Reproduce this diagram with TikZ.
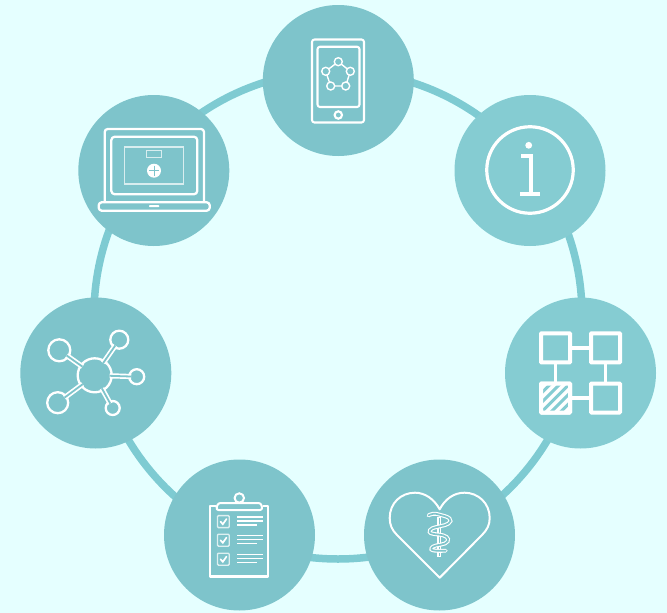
\documentclass[tikz,border=0pt]{standalone}
\begin{document}
\begin{tikzpicture}[x=1pt,y=-1pt,
  bigc/.style={circle,inner sep=0pt,outer sep=0pt,minimum size=151pt,fill=#1},
  ico/.style={draw=white,line width=#1,line cap=round,line join=round},
  ico/.default=2.2,
  satc/.style={circle,inner sep=0pt,outer sep=0pt,draw=white,line width=2.3pt,fill=tealA,minimum size=#1},
  flowbox/.style={rectangle,inner sep=0pt,outer sep=0pt,draw=white,line width=4pt,minimum size=29pt,rounded corners=0.6pt},
  flowlink/.style={draw=white,line width=3.6pt},
  hublink/.style={draw=white,line width=1.7pt,double=tealA,double distance=1.8pt,shorten >=-2pt,shorten <=-2pt},
  penta/.style={circle,inner sep=0pt,outer sep=0pt,draw=white,line width=1.4pt,minimum size=8pt},
  pentalink/.style={draw=white,line width=1.4pt}]
\definecolor{bgc}{HTML}{E5FFFF}
\definecolor{tealA}{HTML}{7EC4CB}
\definecolor{tealB}{HTML}{85CCD2}
\definecolor{ringc}{HTML}{7ECBD2}
\useasboundingbox (0,0) rectangle (667,613);
\fill[bgc] (0,0) rectangle (667,613);
\coordinate (ringcentre) at (338,315);
\draw[ringc,line width=7.5pt] (ringcentre) circle[radius=244];
% big discs
\node[bigc=tealA] (top) at (338.3,80.5) {};
\node[bigc=tealA] (ul) at (153.8,170.5) {};
\node[bigc=tealA] (left) at (95.8,373) {};
\node[bigc=tealA] (bl) at (239.5,535) {};
\node[bigc=tealA] (br) at (439.5,535) {};
\node[bigc=tealB] (right) at (580.5,373) {};
\node[bigc=tealB] (ur) at (530,170.5) {};
% phone
\draw[ico=2.1,rounded corners=2.5pt] (312,39.5) rectangle (364,122.5);
\draw[ico=2.1,rounded corners=2.5pt] (317.5,46.7) rectangle (359.5,107);
\node[circle,inner sep=0pt,draw=white,line width=2.1pt,minimum size=7.4pt] (homebtn) at (338.3,115) {};
\node[penta] (p1) at (338.3,61.7) {};
\node[penta] (p2) at (350.3,71.3) {};
\node[penta] (p3) at (345.7,86) {};
\node[penta] (p4) at (330.7,86) {};
\node[penta] (p5) at (325.7,71.3) {};
\draw[pentalink] (p1)--(p2) (p2)--(p3) (p3)--(p4) (p4)--(p5) (p5)--(p1);
% laptop
\draw[ico=2.3,rounded corners=3pt] (104.7,202) -- (104.7,129) -- (204,129) -- (204,202);
\draw[ico=2.3,rounded corners=3.5pt] (111.3,136.7) rectangle (197.3,194.3);
\draw[ico=2.3,rounded corners=3pt] (98.7,202.3) rectangle (209.7,210.7);
\fill[white,rounded corners=0.8pt] (149,205) rectangle (159.3,207.2);
\draw[white,opacity=.7,line width=1.4pt] (124.7,147) rectangle (183.7,184);
\draw[white,opacity=.7,line width=1.4pt] (146.3,150.7) rectangle (161.7,157.7);
\fill[white] (154,170.7) circle[radius=7];
\draw[tealA,line width=1pt] (154,165.5) -- (154,176) (148.8,170.7) -- (159.2,170.7);
% hub
\node[satc=34pt] (hub) at (94.7,375.3) {};
\node[satc=22pt] (s1) at (59.3,350.3) {};
\node[satc=18pt] (s2) at (119.3,339.7) {};
\node[satc=15pt] (s3) at (136.7,376.7) {};
\node[satc=14pt] (s4) at (112.7,408) {};
\node[satc=21pt] (s5) at (57.7,402.7) {};
\draw[hublink] (hub)--(s1);
\draw[hublink] (hub)--(s2);
\draw[hublink] (hub)--(s3);
\draw[hublink] (hub)--(s4);
\draw[hublink] (hub)--(s5);
% clipboard
\draw[ico=2.1,line cap=butt] (215.5,505.7) -- (210.3,505.7) -- (210.3,576.5) -- (268,576.5) -- (268,505.7) -- (262.5,505.7);
\draw[ico=2,rounded corners=2.5pt] (216,510) -- (218,503) -- (261,503) -- (262.5,510) -- cycle;
\node[circle,inner sep=0pt,fill=tealA,draw=white,line width=2pt,minimum size=9.4pt] (clipring) at (239.3,498) {};
\foreach \yy in {515.6,534.2,553.2}{
  \draw[white,opacity=.75,line width=1.4pt,rounded corners=1pt] (217.5,\yy) rectangle (229.2,\yy+12);
  \draw[white,line width=1.7pt,line cap=round] (220.5,\yy+6) -- (222.8,\yy+8.6) -- (226.5,\yy+3.4);
  \draw[white,line width=1.5pt] (237.3,\yy+1.4) -- (263,\yy+1.4) (237.3,\yy+5.4) -- (263,\yy+5.4) (237.3,\yy+9.4) -- (256.7,\yy+9.4);
}
% heart
\draw[ico=2] (439.7,577.7) -- (397,535) .. controls (392,530) and (389.7,525) .. (389.7,518) .. controls (389.7,503) and (401,492.7) .. (415,492.7) .. controls (425,492.7) and (434,499) .. (439.7,509.3) .. controls (445,499) and (454,492.7) .. (464.5,492.7) .. controls (478,492.7) and (489.7,503) .. (489.7,518) .. controls (489.7,525) and (487,530) .. (482,535) -- cycle;
\draw[white,line width=1.1pt] (438,517.3) rectangle (440.9,556.5);
\draw[white,line width=1.1pt,double=tealA,double distance=1.7pt,line cap=round] plot[smooth,tension=.8] coordinates {(428.5,515.5) (433,513.8) (440,514.8) (449.5,518.5) (448.5,523.5) (440,526.3) (432.3,528.3) (429.7,532) (434,534) (443,535.3) (448,539) (445,543.5) (436,545.5) (431.5,548) (434,550.5) (445.7,550.7)};
% flow chart
\node[flowbox] (f1) at (555.5,347.8) {};
\node[flowbox] (f2) at (605.5,347.8) {};
\node[flowbox,fill=white] (f3) at (555.5,398) {};
\node[flowbox] (f4) at (605.5,398) {};
\draw[flowlink] (f1)--(f2);
\draw[flowlink] (f1)--(f3);
\draw[flowlink] (f2)--(f4);
\draw[flowlink] (f3)--(f4);
\begin{scope}
\clip (f3.south west) rectangle (f3.north east);
\foreach \dd in {-39,-29.5,-20,-10.5,-1}{
  \draw[tealB,line width=3pt] ([xshift=\dd pt,yshift=-20pt]f3.center) -- ([xshift=\dd pt+40pt,yshift=20pt]f3.center);
}
\end{scope}
\node[flowbox] (f3edge) at (555.5,398) {};
% info
\node[circle,inner sep=0pt,draw=white,line width=3.2pt,minimum size=86.5pt] (infoc) at (530,170) {};
\fill[white] (528.7,145.3) circle[radius=3.4];
\draw[white,line width=3.6pt] (521,156) -- (530.8,156) -- (530.8,193.7);
\draw[white,line width=3.6pt] (520,193.7) -- (540,193.7);
\end{tikzpicture}
\end{document}
